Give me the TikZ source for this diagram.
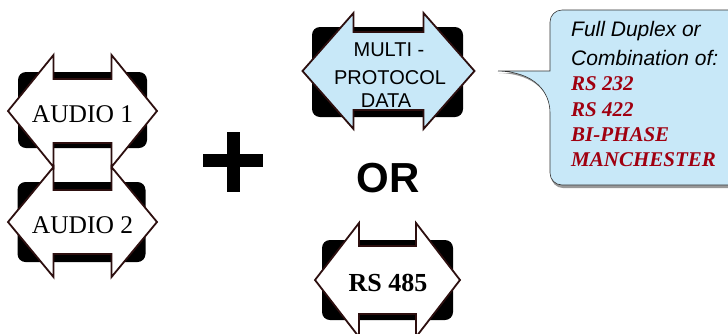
\documentclass[tikz,border=0pt]{standalone}
\usepackage{fontspec}
\setmainfont{Liberation Serif}
\setsansfont{Liberation Sans}
\definecolor{arrowline}{RGB}{45,15,15}
\definecolor{lightblue}{RGB}{200,232,248}
\definecolor{darkred}{RGB}{160,0,16}
\tikzset{
  arrowshape/.style={draw=arrowline, line width=1.8pt},
  backbox/.style={fill=black, rounded corners=8pt},
  audiotext/.style={font=\fontsize{25.5}{30}\selectfont, anchor=base, inner sep=0pt},
  rstext/.style={font=\fontsize{26}{30}\selectfont\bfseries, anchor=base, inner sep=0pt},
  multitext/.style={font=\sffamily\fontsize{20}{24}\selectfont, anchor=base, inner sep=0pt},
  ortext/.style={font=\sffamily\bfseries\fontsize{42}{48}\selectfont, anchor=base, inner sep=0pt},
  calloutbox/.style={draw=black!80, line width=0.6pt, fill=lightblue},
  calloutblack/.style={font=\sffamily\itshape\fontsize{21}{24}\selectfont, anchor=base west, inner sep=0pt},
  calloutred/.style={font=\bfseries\itshape\fontsize{21}{24}\selectfont, text=darkred, anchor=base west, inner sep=0pt},
}
% #1 cx, #2 cy, #3 tip, #4 head base, #5 head half-height, #6 shaft half-height, #7 fill
\newcommand{\myarrowshape}[7]{%
  \begin{scope}[shift={(#1,#2)}]
    \draw[arrowshape, fill=#7] (-#3,0) -- (-#4,-#5) -- (-#4,-#6) -- (#4,-#6) -- (#4,-#5)
      -- (#3,0) -- (#4,#5) -- (#4,#6) -- (-#4,#6) -- (-#4,#5) -- cycle;
  \end{scope}}
% #1 cx, #2 cy, #3 half-width, #4 half-height
\newcommand{\myback}[4]{%
  \begin{scope}[shift={(#1,#2)}]
    \fill[backbox] (-#3,-#4) rectangle (#3,#4);
  \end{scope}}
\begin{document}
\begin{tikzpicture}[x=1pt,y=-1pt]
\useasboundingbox (0,0) rectangle (728,333);
\clip (0,0) rectangle (728,333);

% AUDIO 1
\myback{82.5}{110}{64.5}{38}
\myarrowshape{82.5}{111}{74.5}{29}{56}{32}{white}
\node[audiotext] (audio1) at (82.5,122) {AUDIO 1};

% AUDIO 2
\myback{81.5}{222}{64}{40}
\myarrowshape{82.5}{222}{74.5}{29}{55}{32}{white}
\node[audiotext] (audio2) at (82.5,233) {AUDIO 2};

% plus
\draw[line width=13pt] (203,160) -- (263,160);
\draw[line width=13pt] (233.5,132) -- (233.5,192);

% MULTI-PROTOCOL DATA
\myback{387.5}{72}{75.5}{45}
\myarrowshape{388.5}{71}{86}{35}{58}{39}{lightblue}
\node[multitext] (m1) at (389,56.5) {MULTI -};
\node[multitext] (m2) at (390,84) {PROTOCOL};
\node[multitext] (m3) at (386,107.5) {DATA};

% OR
\node[ortext] (or) at (388,192) {OR};

% RS 485
\myback{387.5}{280}{65.5}{40}
\myarrowshape{387.5}{280}{72.5}{28.5}{57}{34}{white}
\node[rstext] (rs485) at (388,291.5) {RS 485};

% callout
\fill[black!40] (499,73) -- (551,73) -- (551,40) [rounded corners=12pt] -- (551,12) -- (746,12) -- (746,188) -- (551,188) -- (551,160) [sharp corners] -- (551,115) .. controls (551,94) and (536,74) .. (499,73) -- cycle;
\draw[calloutbox] (498,71) -- (550,71) -- (550,40) [rounded corners=12pt] -- (550,10) -- (745,10) -- (745,185) -- (550,185) -- (550,160) [sharp corners] -- (550,113) .. controls (550,92) and (535,72) .. (498,71) -- cycle;
\node[calloutblack] (c1) at (571,36.7) {Full Duplex or};
\node[calloutblack] (c2) at (571,65) {Combination of:};
\node[calloutred] (c3) at (571,90.7) {RS 232};
\node[calloutred] (c4) at (571,116) {RS 422};
\node[calloutred] (c5) at (571,141.7) {BI-PHASE};
\node[calloutred] (c6) at (571,166.7) {MANCHESTER};
\end{tikzpicture}
\end{document}
